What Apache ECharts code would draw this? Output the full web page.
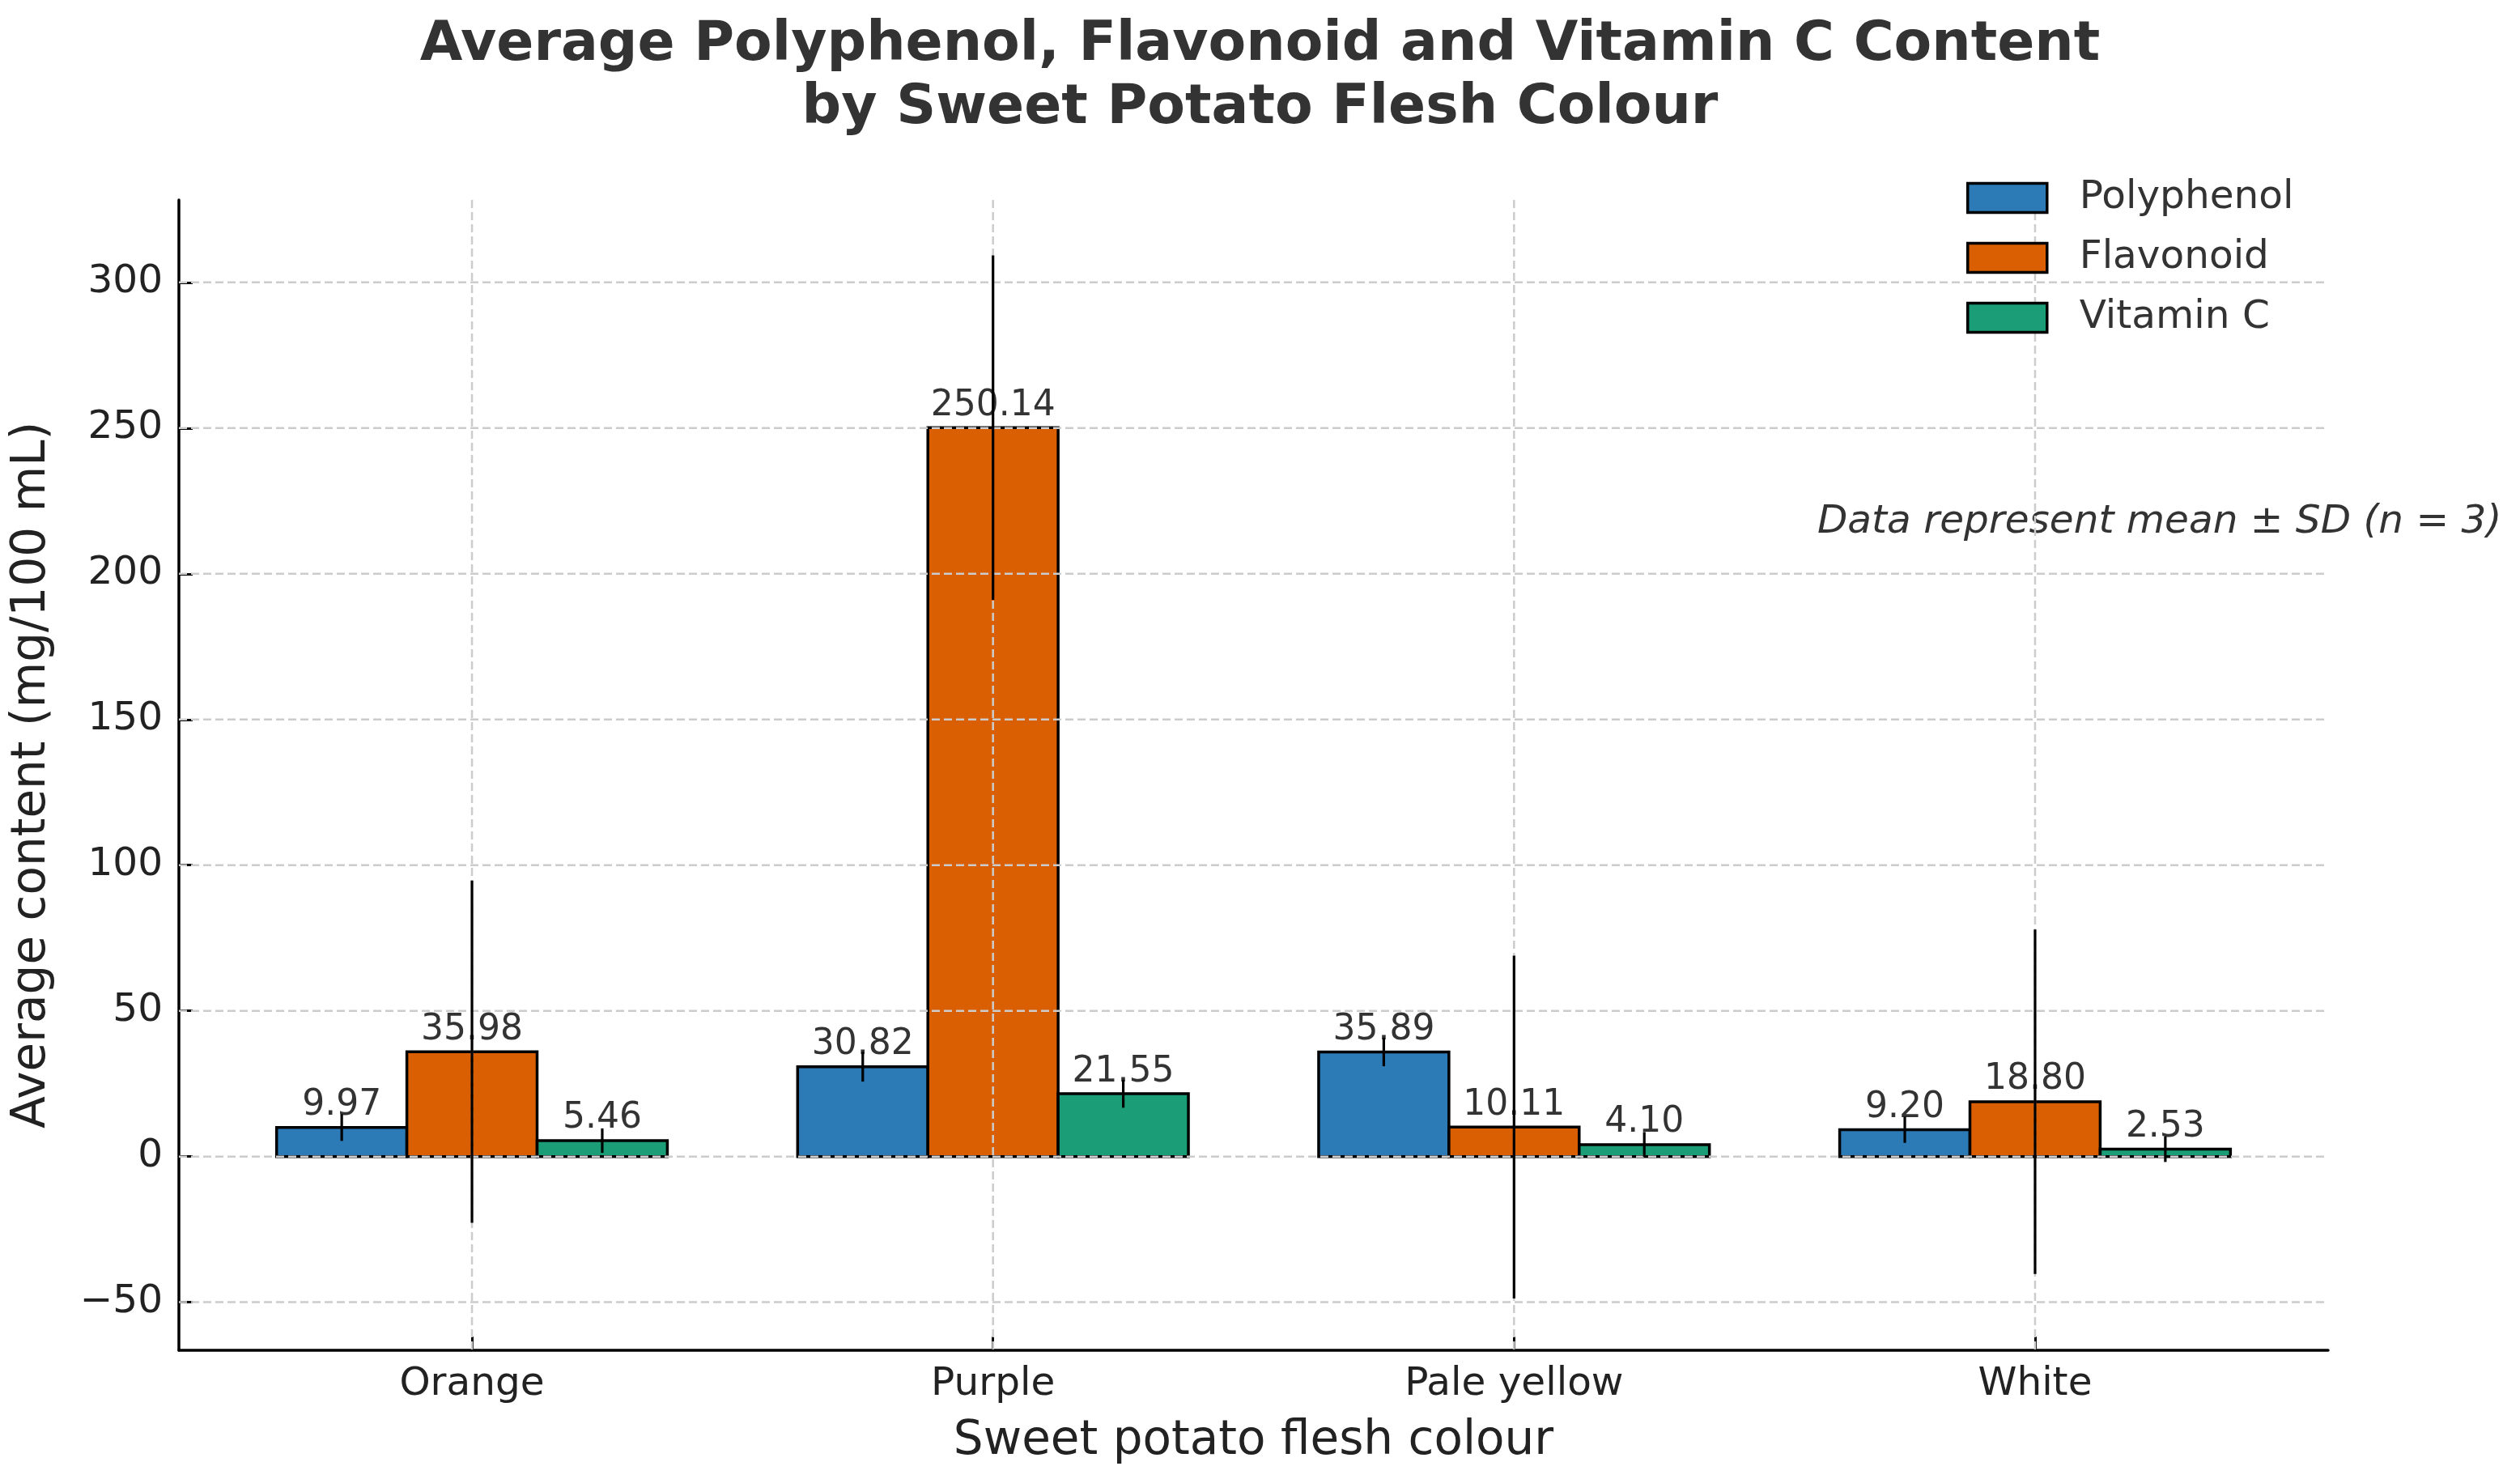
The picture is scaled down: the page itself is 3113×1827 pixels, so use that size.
<!DOCTYPE html>
<html><head><meta charset="utf-8">
<script src="https://cdn.jsdelivr.net/npm/echarts@6/dist/echarts.min.js"></script>
<style>html,body{margin:0;padding:0;background:#fff}#c{width:3113px;height:1827px}</style>
</head><body><div id="c"></div>
<script>
const categories = ['Orange', 'Purple', 'Pale yellow', 'White'];
const polyphenol = [9.97, 30.82, 35.89, 9.20];
const flavonoid = [35.98, 250.14, 10.11, 18.80];
const vitaminC = [5.46, 21.55, 4.10, 2.53];
const polyphenolSD = [4.6, 5.1, 4.9, 4.5];
const flavonoidSD = [58.7, 59.1, 58.8, 59.1];
const vitaminCSD = [4.2, 4.8, 4.3, 4.4];
const yTicks = [-50, 0, 50, 100, 150, 200, 250, 300];
const xTicks = [0, 1, 2, 3];

const FONT = 'DejaVu Sans';
const X_MIN = -0.5625, X_MAX = 3.5625, Y_MIN = -66.5, Y_MAX = 328.3;
const BAR_W = 0.25;

const defs = [
  {name: 'Polyphenol', values: polyphenol, sd: polyphenolSD, color: '#2c7bb6', offset: -0.25},
  {name: 'Flavonoid', values: flavonoid, sd: flavonoidSD, color: '#d95f02', offset: 0},
  {name: 'Vitamin C', values: vitaminC, sd: vitaminCSD, color: '#1b9e77', offset: 0.25}
];

const series = [];
defs.forEach(def => {
  series.push({
    type: 'custom', name: def.name, z: 2,
    itemStyle: {color: def.color, borderColor: '#000', borderWidth: 3.5},
    data: def.values.map((v, i) => [i, v]),
    renderItem: (params, api) => {
      const x = api.value(0) + def.offset;
      const v = api.value(1);
      const p0 = api.coord([x - BAR_W / 2, 0]);
      const p1 = api.coord([x + BAR_W / 2, v]);
      return {
        type: 'rect',
        shape: {x: p0[0], y: Math.min(p0[1], p1[1]), width: p1[0] - p0[0], height: Math.abs(p1[1] - p0[1])},
        style: {fill: def.color, stroke: '#000', lineWidth: 3.5}
      };
    }
  });
});

// gridlines drawn above bars (as in the reference)
series.push({
  type: 'custom', name: 'gridH', z: 3, silent: true,
  data: yTicks.map(t => [0, t]),
  renderItem: (params, api) => {
    const cs = params.coordSys;
    const y = api.coord([0, api.value(1)])[1];
    return {type: 'line', shape: {x1: cs.x, y1: y, x2: cs.x + cs.width, y2: y},
      style: {stroke: '#cccccc', lineWidth: 2.5, lineDash: [10, 5]}};
  }
});
series.push({
  type: 'custom', name: 'gridV', z: 3, silent: true,
  data: xTicks.map(t => [t, 0]),
  renderItem: (params, api) => {
    const cs = params.coordSys;
    const x = api.coord([api.value(0), 0])[0];
    return {type: 'line', shape: {x1: x, y1: cs.y, x2: x, y2: cs.y + cs.height},
      style: {stroke: '#cccccc', lineWidth: 2.5, lineDash: [10, 5]}};
  }
});

defs.forEach(def => {
  series.push({
    type: 'custom', name: def.name + ' err', z: 4, silent: true,
    data: def.values.map((v, i) => [i, v, def.sd[i]]),
    renderItem: (params, api) => {
      const x = api.value(0) + def.offset;
      const v = api.value(1);
      const sd = api.value(2);
      const top = api.coord([x, v + sd]);
      const bot = api.coord([x, v - sd]);
      const mid = api.coord([x, v]);
      return {
        type: 'group',
        children: [
          {type: 'text', x: mid[0], y: mid[1] - 5,
            style: {text: v.toFixed(2), fill: '#333', fontSize: 44, fontFamily: FONT, align: 'center', verticalAlign: 'bottom'}},
          {type: 'line', shape: {x1: top[0], y1: top[1], x2: bot[0], y2: bot[1]},
            style: {stroke: '#000', lineWidth: 3.2}}
        ]
      };
    }
  });
});

const option = {
  backgroundColor: '#fff',
  animation: false,
  title: {
    text: 'Average Polyphenol, Flavonoid and Vitamin C Content\nby Sweet Potato Flesh Colour',
    left: 'center', top: 12,
    textStyle: {fontSize: 68, fontWeight: 'bold', fontFamily: FONT, color: '#333', lineHeight: 78}
  },
  legend: {
    orient: 'vertical', left: 2429, top: 220, padding: 0,
    itemWidth: 98, itemHeight: 36, itemGap: 25, icon: 'rect', selectedMode: false,
    textStyle: {fontSize: 48.5, fontFamily: FONT, color: '#333', padding: [0, 0, 0, 35]},
    data: defs.map(d => ({name: d.name, itemStyle: {color: d.color, borderColor: '#000', borderWidth: 3.5}}))
  },
  graphic: [{
    type: 'text', x: 2245, y: 645,
    style: {text: 'Data represent mean ± SD (n = 3)', fontSize: 48.5, fontStyle: 'italic', fontFamily: FONT, fill: '#333', verticalAlign: 'middle'}
  }],
  grid: {left: 221, right: 237, top: 247, bottom: 159},
  xAxis: {
    type: 'value', min: X_MIN, max: X_MAX,
    axisLine: {show: true, onZero: false, lineStyle: {color: '#000', width: 3.5}},
    axisTick: {show: true, inside: true, length: 17, customValues: xTicks, lineStyle: {color: '#000', width: 3}},
    axisLabel: {customValues: xTicks, formatter: v => categories[Math.round(v)], fontSize: 48.5, fontFamily: FONT, color: '#222', margin: 18},
    splitLine: {show: false},
    name: 'Sweet potato flesh colour', nameLocation: 'middle', nameGap: 84,
    nameTextStyle: {fontSize: 58, fontFamily: FONT, color: '#222'}
  },
  yAxis: {
    type: 'value', min: Y_MIN, max: Y_MAX,
    axisLine: {show: true, onZero: false, lineStyle: {color: '#000', width: 3.5}},
    axisTick: {show: true, inside: true, length: 17, customValues: yTicks, lineStyle: {color: '#000', width: 3}},
    axisLabel: {customValues: yTicks, formatter: v => (v < 0 ? '\u2212' + Math.abs(v) : String(v)), fontSize: 48.5, fontFamily: FONT, color: '#222', margin: 20},
    splitLine: {show: false},
    name: 'Average content (mg/100 mL)', nameLocation: 'middle', nameGap: 152,
    nameTextStyle: {fontSize: 58, fontFamily: FONT, color: '#222'}
  },
  series: series
};
const chart = echarts.init(document.getElementById('c'));
chart.setOption(option);
</script>
</body></html>
